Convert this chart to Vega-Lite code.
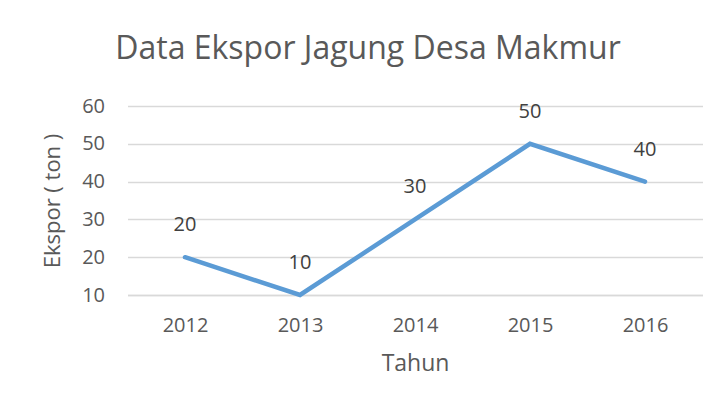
{
  "$schema": "https://vega.github.io/schema/vega-lite/v6.json",
  "autosize": "none",
  "width": 575,
  "height": 189,
  "padding": {"left": 127.5, "top": 106, "right": 17.5, "bottom": 114},
  "background": "white",
  "config": {
    "font": "Open Sans",
    "view": {"stroke": null}
  },
  "title": {
    "text": "Data Ekspor Jagung Desa Makmur",
    "fontSize": 32,
    "fontWeight": "normal",
    "color": "#595959",
    "anchor": "middle",
    "dx": -47,
    "baseline": "alphabetic",
    "offset": 5
  },
  "data": {
    "values": [
      {"Tahun": "2012", "Ekspor": 20},
      {"Tahun": "2013", "Ekspor": 10},
      {"Tahun": "2014", "Ekspor": 30},
      {"Tahun": "2015", "Ekspor": 50},
      {"Tahun": "2016", "Ekspor": 40}
    ]
  },
  "encoding": {
    "x": {
      "field": "Tahun",
      "type": "ordinal",
      "scale": {"type": "point", "padding": 0.5},
      "axis": {
        "title": "Tahun",
        "labelAngle": 0,
        "labelFontSize": 20,
        "labelColor": "#595959",
        "labelPadding": 20,
        "ticks": false,
        "domain": true,
        "domainColor": "#D9D9D9",
        "domainWidth": 1.5,
        "grid": false,
        "titleFontSize": 23,
        "titleFontWeight": "normal",
        "titleColor": "#595959",
        "titlePadding": 17
      }
    },
    "y": {
      "field": "Ekspor",
      "type": "quantitative",
      "scale": {"domain": [10, 60], "nice": false, "zero": false},
      "axis": {
        "title": "Ekspor ( ton )",
        "values": [10, 20, 30, 40, 50, 60],
        "labelFontSize": 20,
        "labelColor": "#595959",
        "labelPadding": 23,
        "ticks": false,
        "domain": false,
        "grid": true,
        "gridColor": "#D9D9D9",
        "gridWidth": 1.5,
        "titleFontSize": 22,
        "titleFontWeight": "normal",
        "titleColor": "#595959",
        "titlePadding": 17
      }
    }
  },
  "layer": [
    {
      "mark": {"type": "line", "color": "#5B9BD5", "strokeWidth": 4.5, "strokeCap": "round", "strokeJoin": "miter"}
    },
    {
      "mark": {"type": "text", "dy": -32, "fontSize": 20, "color": "#404040"},
      "encoding": {"text": {"field": "Ekspor", "type": "quantitative"}}
    }
  ]
}
